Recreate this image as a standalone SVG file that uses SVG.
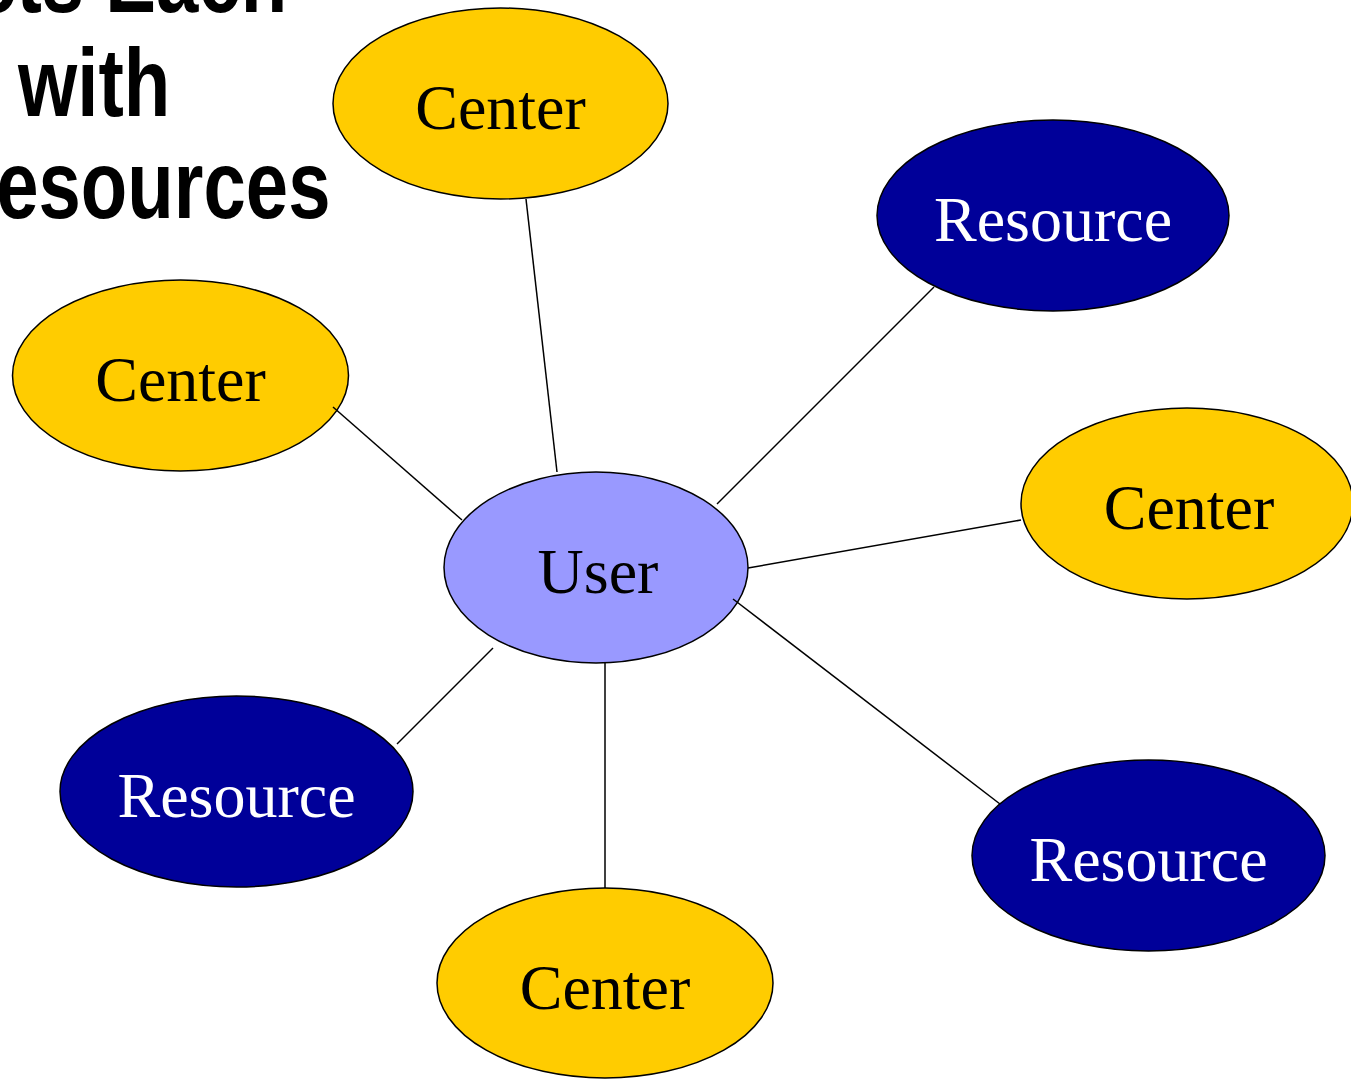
<svg xmlns="http://www.w3.org/2000/svg" width="1351" height="1080" viewBox="0 0 1351 1080">
<style>
.center{fill:#FFCC00;stroke:#000;stroke-width:1.5}
.res{fill:#000099;stroke:#000;stroke-width:1.5}
.user{fill:#9999FF;stroke:#000;stroke-width:1.5}
.lbl{font-family:"Liberation Serif","Times New Roman",serif;font-size:64px;text-anchor:middle}
.dark{fill:#000}
.light{fill:#fff}
.title{font-family:"Liberation Sans",Arial,sans-serif;font-weight:bold;font-size:97px;text-anchor:end;fill:#000}
.conn line{stroke:#000;stroke-width:1.5}
</style>
<rect width="1351" height="1080" fill="#fff"/>
<g id="title" transform="scale(0.785,1)">
<text class="title" x="366" y="12">cts Each</text>
<text class="title" x="217" y="116">with</text>
<text class="title" x="421" y="218">Resources</text>
</g>
<g id="center-top"><ellipse class="center" cx="500.5" cy="103.5" rx="167.5" ry="95.5"/><text class="lbl dark" x="500.5" y="129">Center</text></g>
<g id="resource-top-right"><ellipse class="res" cx="1053" cy="215.5" rx="176" ry="95.5"/><text class="lbl light" x="1053" y="241">Resource</text></g>
<g id="center-left"><ellipse class="center" cx="180.5" cy="375.5" rx="168" ry="95.5"/><text class="lbl dark" x="180.5" y="401">Center</text></g>
<g id="center-right"><ellipse class="center" cx="1187" cy="503.5" rx="166" ry="95.5"/><text class="lbl dark" x="1189" y="529">Center</text></g>
<g id="user"><ellipse class="user" cx="596" cy="567.5" rx="152" ry="95.5"/><text class="lbl dark" x="598" y="593">User</text></g>
<g id="resource-bottom-left"><ellipse class="res" cx="236.5" cy="791.5" rx="176.5" ry="95.5"/><text class="lbl light" x="236.5" y="817">Resource</text></g>
<g id="center-bottom"><ellipse class="center" cx="605" cy="983" rx="168" ry="95"/><text class="lbl dark" x="605" y="1009">Center</text></g>
<g id="resource-bottom-right"><ellipse class="res" cx="1148.5" cy="855.5" rx="176.5" ry="95.5"/><text class="lbl light" x="1148.5" y="881">Resource</text></g>
<g id="connectors" class="conn">
<line x1="526" y1="199" x2="557" y2="472"/>
<line x1="934" y1="287" x2="717" y2="504"/>
<line x1="333" y1="407" x2="462" y2="520"/>
<line x1="1021" y1="520" x2="748" y2="568"/>
<line x1="733" y1="599" x2="1000" y2="804"/>
<line x1="493" y1="648" x2="397" y2="744"/>
<line x1="605" y1="663" x2="605" y2="888"/>
</g>
</svg>
